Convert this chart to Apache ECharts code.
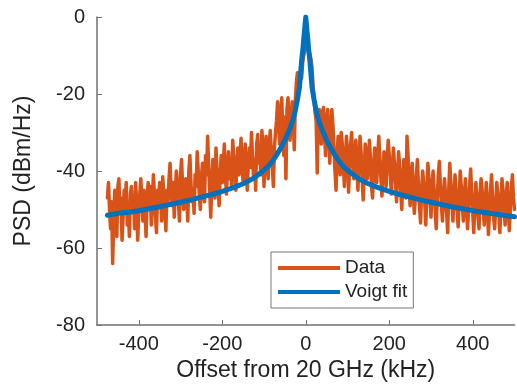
<!DOCTYPE html>
<html>
<head>
<meta charset="utf-8">
<script src="https://cdn.jsdelivr.net/npm/echarts@6/dist/echarts.min.js"></script>
<style>html,body{margin:0;padding:0;background:#fff}#c{width:517px;height:388px}</style>
</head>
<body>
<div id="c"></div>
<script>
// Measured PSD data (kHz offset, dBm/Hz), 2.5 kHz step from -475 to 500
const dataStart = -475;
const dataStep = 2.5;
const dataValues = [
  // -475
  -47,-43,-50,-55,-48,-64,-53,-45,-49,-57, -44,-42,-51,-47,-58,-52,-45,-48,-43,-54,
  -49,-57,-46,-44,-50,-47,-55,-43,-49,-58, -51,
  // -397.5
  -46,-42,-48,-53,-45,-50,-57,-47,-43,-49, -44,-54,-48,-41,-46,-52,-56,-45,-49,-43,
  -47,-53,-41.5,-46,-50,-55.5,-45,-48,
  // -327.5
  -42,-38,-45,-49,-43,-52,-46,-40,-44,-48, -53,-41,-37,-44,-50,-46,-42,-47,-53,-40,
  -36,-43,-48,-45,-51,-41,-44,
  // -260
  -35,-40,-46,-50,-42,-38,-44,-48,-36,-41, -31,-39,-45,-52,-43,-37,-42,-47,-34,-40,
  -44,-49,-41,-36,-43,
  // -197.5
  -38,-33,-41,-46,-39,-35,-42,-37,-44,-32, -36,-40,-45,-38,-34,-41,-36,-31.5,-39,-43,
  -37,-33,-40,-45,-38,
  // -135
  -34,-39,-30,-36,-42,-37,-45,-33,-30.5,-38, -35,-41,-29.5,-34,-44,-37,-31,-36,-42,-33,
  -29.5,-35,-39,-44,-34,-30,
  // -70
  -27,-22,-28,-33,-25,-21,-30,-36,-26,-42, -24,-21,-28,-32,-26,-22,-25,-34.5,
  // -25
  -22,-17,-14.5,-19,-15,-14,-16,-12,-10,-9, -8,-8.5,-8.6,-9,-9.5,-11,-13,-18,-22,-25,
  -27,
  // 27.5
  -40.5,-26,-24,-28,-33,-25,-23.5,-30,-36,-27, -24,-29,-38,-31,-24,-28,
  // 67.5
  -34,-40,-45,-36,-31,-35,-41,-30,-33,-38, -44,-37,-31,-35,-45.5,-39,
  // 107.5
  -33,-30,-37,-42,-36,-32,-39,-45,-38,-31, -35,-41,-47.5,-40,-33,-36,-42,-38,-32,-37,
  -44,-47,
  // 162.5
  -39,-34,-38,-43,-36,-31,-37,-42,-46.5,-40, -35,-39,-44,-37,-32,-36,-41,-46,-39,-34,
  // 212.5
  -38,-43,-48,-40,-35,-39,-45,-50,-42,-37, -41,-47,-31,-36,-44,-49,
  // 252.5
  -42,-38,-45,-51,-47,-41,-37,-44,-49,-53.5, -45,-40,-43,-48,-54,-46,-38,-42,-47,-52,
  -44,-40,-45,-50,-55,-47,-41,-37.5,-44,-49, -53,-46,-42,-47,-51,-56,-45,-38,-43,-48,
  -53,-47,-41,
  // 360
  -45,-50,-54.5,-47,-40,-44,-49,-53,-46,-42, -48,-55,-50,-44,-39.5,-46,-51,-56,-48,-43,
  -47,-52,-55,-46,-42,-45,-50,-54,-48,-43, -49,-56.5,-51,-45,-41,-47,-52,-55,-49,-43,
  -46,-51,-56,-48,-42,-45,-50,-54,-47,-43, -49,-55.5,-50,-44,-41,-47,-50
];
// Voigt fit curve
const fitX = [-475,-450,-425,-400,-375,-350,-325,-300,-275,-250,-225,-200,-175,-150,-125,-100,-90,-80,-70,-60,-50,-40,-35,-30,-25,-20,-15,-10,-7,-5,-3,-1.5,0,
  1.5,3,5,7,10,15,20,25,30,35,40,50,60,70,80,90,100,125,150,175,200,225,250,275,300,325,350,375,400,425,450,475,500];
const fitY = [-51.5,-51.0,-50.7,-50.3,-49.8,-49.3,-48.7,-48.1,-47.5,-46.8,-46.1,-45.3,-44.4,-43.3,-41.9,-39.8,-38.8,-37.5,-35.9,-34.0,-32.0,-29.5,-28.1,-26.5,-24.3,-21.5,-18.2,-11.5,-8.5,-6.0,-3.6,-1.8,0,
  -1.8,-3.6,-6.0,-8.5,-11.5,-18.2,-21.5,-24.3,-26.5,-28.1,-29.5,-32.0,-34.0,-35.9,-37.5,-38.8,-39.8,-41.9,-43.3,-44.4,-45.3,-46.1,-46.8,-47.5,-48.1,-48.7,-49.3,-49.8,-50.3,-50.7,-51.1,-51.5,-51.9];
const xTicks = [-400,-200,0,200,400];
const seriesNames = ['Data','Voigt fit'];

const dataPts = dataValues.map((v,i)=>[dataStart + i*dataStep, v]);
const fitPts = fitX.map((x,i)=>[x, fitY[i]]);

const font = 'Arial, "Liberation Sans", Helvetica, sans-serif';
const axisCol = '#707070';
const chart = echarts.init(document.getElementById('c'), null, {renderer:'canvas'});
chart.setOption({
  animation:false,
  backgroundColor:'#fff',
  grid:{left:97, right:2.5, top:17, bottom:63},
  legend:{
    data:seriesNames, orient:'vertical', left:271, top:252,
    padding:[5,6,5,7], itemGap:2, itemWidth:62, itemHeight:4, icon:'rect',
    borderColor:'#777', borderWidth:1, backgroundColor:'#fff',
    textStyle:{fontFamily:font, fontSize:19, color:'#222', lineHeight:22}
  },
  xAxis:{
    type:'value', min:-500, max:500,
    name:'Offset from 20 GHz (kHz)', nameLocation:'middle', nameGap:28,
    nameTextStyle:{fontFamily:font, fontSize:23, color:'#222'},
    axisLine:{show:true, onZero:false, lineStyle:{color:axisCol, width:1.5}},
    axisTick:{show:true, inside:true, length:5, customValues:xTicks, lineStyle:{color:axisCol}},
    axisLabel:{customValues:xTicks, margin:9, fontFamily:font, fontSize:20, color:'#222'},
    splitLine:{show:false}
  },
  yAxis:{
    type:'value', min:-80, max:0, interval:20,
    name:'PSD (dBm/Hz)', nameLocation:'middle', nameGap:62,
    nameTextStyle:{fontFamily:font, fontSize:23, color:'#222'},
    axisLine:{show:true, onZero:false, lineStyle:{color:axisCol, width:1.5}},
    axisTick:{show:true, inside:true, length:5, lineStyle:{color:axisCol}},
    axisLabel:{margin:12, fontFamily:font, fontSize:20, color:'#222'},
    splitLine:{show:false}
  },
  series:[
    {name:seriesNames[0], type:'line', data:dataPts, showSymbol:false, symbol:'none',
     lineStyle:{color:'#D95319', width:3.5, cap:'round', join:'round'}, itemStyle:{color:'#D95319'}, z:2},
    {name:seriesNames[1], type:'line', data:fitPts, showSymbol:false, symbol:'none',
     lineStyle:{color:'#0072BD', width:5, cap:'round', join:'round'}, itemStyle:{color:'#0072BD'}, z:3}
  ]
});
</script>
</body>
</html>
